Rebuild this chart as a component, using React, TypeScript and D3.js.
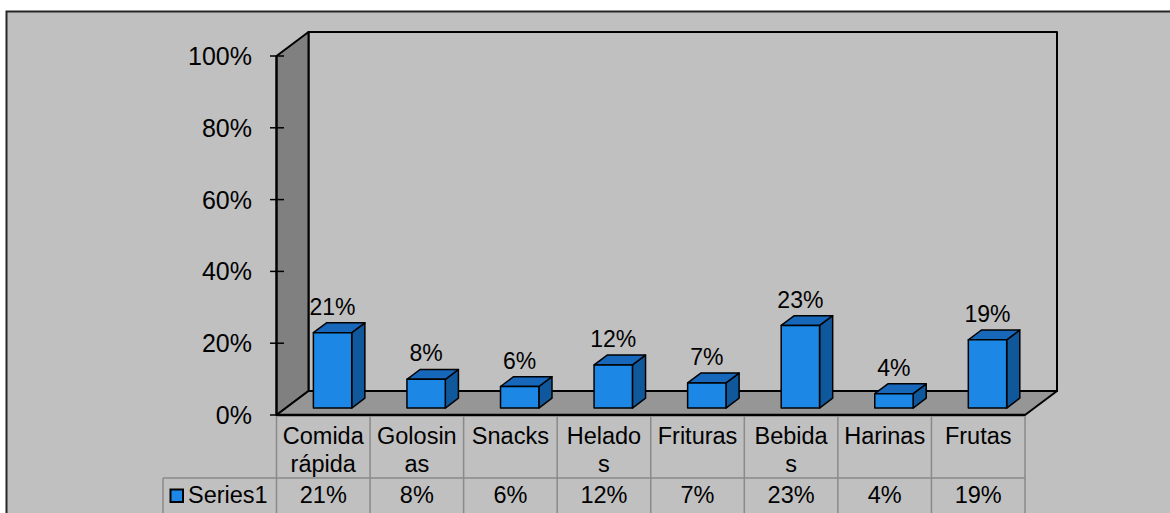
import React from "react";
import * as d3 from "d3";

const categories = ["Comida rápida", "Golosinas", "Snacks", "Helados", "Frituras", "Bebidas", "Harinas", "Frutas"];
const categoryLines = [["Comida", "rápida"], ["Golosin", "as"], ["Snacks"], ["Helado", "s"], ["Frituras"], ["Bebida", "s"], ["Harinas"], ["Frutas"]];
const values = [0.21, 0.08, 0.06, 0.12, 0.07, 0.23, 0.04, 0.19];
const yTicks = [0, 0.2, 0.4, 0.6, 0.8, 1];
const seriesName = "Series1";

const FONT = "'Liberation Sans', Arial, sans-serif";
const DX = 32;
const DY = -24;
const D0 = 0.29;
const D1 = 0.7;

export default function App() {
  const x = d3.scaleBand<string>().domain(categories).range([276.5, 1025]).padding(0);
  const y = d3.scaleLinear().domain([0, 1]).range([415, 56]);
  const bw = x.bandwidth();
  const fmt = d3.format(".0%");
  const P = (px: number, py: number, d: number) => [px + DX * d, py + DY * d];
  const pts = (arr: number[][]) => arr.map((p) => p.join(",")).join(" ");

  const x0 = x.range()[0];
  const x1 = x.range()[1];
  const yb = y(0);
  const yt = y(1);

  const sideWall = [P(x0, yb, 0), P(x0, yt, 0), P(x0, yt, 1), P(x0, yb, 1)];
  const backWall = [P(x0, yt, 1), P(x1, yt, 1), P(x1, yb, 1), P(x0, yb, 1)];
  const floor = [P(x0, yb, 0), P(x1, yb, 0), P(x1, yb, 1), P(x0, yb, 1)];

  const tableTop = yb;
  const rowSplit = 478;
  const legendLeft = 163;
  const tableBottom = 520;

  return (
    <svg width={1170} height={513} style={{ position: "absolute", left: 0, top: 0 }} fontFamily={FONT}>
      <rect x={0} y={0} width={1170} height={513} fill="#ffffff" />
      <rect x={6.5} y={11.5} width={1300} height={700} fill="#c0c0c0" stroke="#262626" strokeWidth={2} />

      {/* walls */}
      <polygon points={pts(backWall)} fill="#c0c0c0" stroke="#000" strokeWidth={2} strokeLinejoin="round" />
      <polygon points={pts(sideWall)} fill="#808080" stroke="#000" strokeWidth={2} strokeLinejoin="round" />
      <polygon points={pts(floor)} fill="#969696" stroke="#000" strokeWidth={2} strokeLinejoin="round" />
      <line x1={x0} x2={x1} y1={yb} y2={yb} stroke="#000" strokeWidth={2.5} />
      <line x1={x0} x2={x0} y1={yt} y2={yb} stroke="#000" strokeWidth={2} />

      {/* y axis */}
      {yTicks.map((t) => (
        <g key={t}>
          <line x1={270} x2={284} y1={y(t)} y2={y(t)} stroke="#000" strokeWidth={1.5} />
          <text x={252} y={y(t) + 9} textAnchor="end" fontSize={25} fill="#000">
            {fmt(t)}
          </text>
        </g>
      ))}

      {/* bars */}
      {categories.map((c, i) => {
        const cx = (x(c) as number) + bw / 2;
        const w = bw * 0.41;
        const xl = cx - w / 2;
        const xr = cx + w / 2;
        const y1 = y(values[i]);
        const front = [P(xl, y1, D0), P(xr, y1, D0), P(xr, yb, D0), P(xl, yb, D0)];
        const side = [P(xr, y1, D0), P(xr, y1, D1), P(xr, yb, D1), P(xr, yb, D0)];
        const top = [P(xl, y1, D0), P(xl, y1, D1), P(xr, y1, D1), P(xr, y1, D0)];
        return (
          <g key={c}>
            <polygon points={pts(side)} fill="#10589c" stroke="#000" strokeWidth={1.5} strokeLinejoin="round" />
            <polygon points={pts(top)} fill="#1767bb" stroke="#000" strokeWidth={1.5} strokeLinejoin="round" />
            <polygon points={pts(front)} fill="#1c87e4" stroke="#000" strokeWidth={1.5} strokeLinejoin="round" />
            <text x={cx + DX * D0} y={y1 + DY * D1 - 8} textAnchor="middle" fontSize={23} fill="#000">
              {fmt(values[i])}
            </text>
          </g>
        );
      })}

      {/* data table */}
      <g stroke="#8a8a8a" strokeWidth={1.5}>
        {categories.map((c) => (
          <line key={c} x1={x(c) as number} x2={x(c) as number} y1={tableTop + 1} y2={tableBottom} />
        ))}
        <line x1={x1} x2={x1} y1={tableTop + 1} y2={tableBottom} />
        <line x1={legendLeft} x2={x1} y1={rowSplit} y2={rowSplit} />
        <line x1={legendLeft} x2={legendLeft} y1={rowSplit} y2={tableBottom} />
      </g>
      {categories.map((c, i) => (
        <g key={c}>
          {categoryLines[i].map((ln, k) => (
            <text key={k} x={(x(c) as number) + bw / 2} y={444 + k * 28} textAnchor="middle" fontSize={23.5} fill="#000">
              {ln}
            </text>
          ))}
          <text x={(x(c) as number) + bw / 2} y={503} textAnchor="middle" fontSize={23.5} fill="#000">
            {fmt(values[i])}
          </text>
        </g>
      ))}
      <rect x={170.5} y={489.5} width={12.5} height={12.5} fill="#1c87e4" stroke="#000" strokeWidth={2} />
      <text x={188} y={503} fontSize={23.5} fill="#000">
        {seriesName}
      </text>
    </svg>
  );
}
